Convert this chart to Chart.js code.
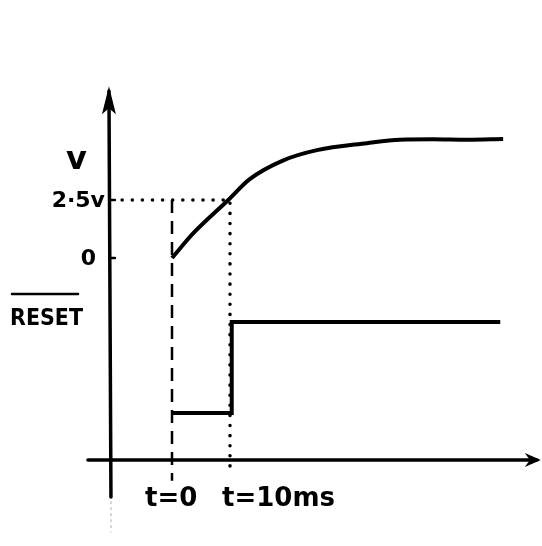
<!DOCTYPE html>
<html>
<head>
<meta charset="utf-8">
<script src="https://cdn.jsdelivr.net/npm/chart.js@4.4.0/dist/chart.umd.min.js"></script>
<style>
  body { margin: 0; background: #fff; }
  #wrap { width: 542px; height: 546px; }
</style>
</head>
<body>
<div id="wrap"><canvas id="grafico"></canvas></div>
<script>
const tempos = [0, 3.6, 9.7, 13.4, 19.1, 25, 33.6, 39.3, 45, 50.9, 57.1];
const tensao = [0, 1.05, 2.5, 3.4, 4.2, 4.65, 4.95, 5.1, 5.12, 5.1, 5.13];

// sinal RESET (0 = baixo, 1 = alto)
const temposReset = [0, 10.3, 10.3, 56.6];
const nivelReset = [0, 0, 1, 1];

const ticksTempo = [0, 10];
const labelsTempo = ['t=0', 't=10ms'];
const ticksTensao = [2.5, 0];
const labelsTensao = ['2·5v', '0'];
const nomeTensao = 'v';
const nomeReset = 'RESET';

// posicao dos eixos desenhados
const eixoT = -10.7;   // eixo vertical (em ms)
const eixoV = -8.7;    // eixo horizontal (em V)

const FAMILIA = '"DejaVu Sans", sans-serif';

const desenhoEixos = {
  id: 'desenhoEixos',
  afterDatasetsDraw(chart) {
    const ctx = chart.ctx;
    const sx = chart.scales.x;
    const sv = chart.scales.y;
    const sr = chart.scales.y2;
    const ax = sx.getPixelForValue(eixoT);
    const ay = sv.getPixelForValue(eixoV);

    ctx.save();
    ctx.strokeStyle = '#000';
    ctx.fillStyle = '#000';
    ctx.lineCap = 'round';

    // eixo vertical
    ctx.lineWidth = 3.5;
    ctx.beginPath();
    ctx.moveTo(ax + 1, sv.getPixelForValue(-10.3));
    ctx.lineTo(ax - 1, sv.getPixelForValue(7.2));
    ctx.stroke();
    // seta
    let topo = sv.getPixelForValue(7.4);
    ctx.beginPath();
    ctx.moveTo(ax - 1, topo);
    ctx.lineTo(ax - 8, topo + 28);
    ctx.lineTo(ax - 1, topo + 22);
    ctx.lineTo(ax + 6, topo + 28);
    ctx.closePath();
    ctx.fill();

    // prolongamento fraco
    ctx.strokeStyle = '#aaa';
    ctx.lineWidth = 1;
    ctx.setLineDash([2, 4]);
    ctx.beginPath();
    ctx.moveTo(ax + 1, sv.getPixelForValue(-10.5));
    ctx.lineTo(ax + 1, sv.getPixelForValue(-11.8));
    ctx.stroke();
    ctx.setLineDash([]);

    // eixo horizontal
    ctx.strokeStyle = '#000';
    ctx.lineWidth = 3.5;
    const esq = sx.getPixelForValue(-14.5);
    const dir = sx.getPixelForValue(63.6);
    ctx.beginPath();
    ctx.moveTo(esq, ay);
    ctx.lineTo(dir - 4, ay);
    ctx.stroke();
    ctx.beginPath();
    ctx.moveTo(dir, ay);
    ctx.lineTo(dir - 16, ay - 7);
    ctx.lineTo(dir - 11, ay);
    ctx.lineTo(dir - 16, ay + 7);
    ctx.closePath();
    ctx.fill();

    // marcas no eixo vertical
    ctx.lineWidth = 2.5;
    ticksTensao.forEach(v => {
      const y = sv.getPixelForValue(v);
      ctx.beginPath();
      ctx.moveTo(ax, y);
      ctx.lineTo(ax + 5, y);
      ctx.stroke();
    });

    // textos
    ctx.font = 'bold 22px ' + FAMILIA;
    ctx.textAlign = 'right';
    ctx.textBaseline = 'middle';
    ticksTensao.forEach((v, i) => {
      ctx.fillText(labelsTensao[i], ax - 5 - (v === 0 ? 9 : 0), sv.getPixelForValue(v) + 1);
    });
    ctx.font = 'bold 32px ' + FAMILIA;
    ctx.fillText(nomeTensao, ax - 23, sv.getPixelForValue(4.2));

    ctx.font = 'bold 20px ' + FAMILIA;
    ctx.textAlign = 'left';
    const yr = sr.getPixelForValue(1) - 3;
    const larg = ctx.measureText(nomeReset).width;
    ctx.save();
    ctx.translate(10, yr);
    ctx.scale(73 / larg, 1.15);
    ctx.fillText(nomeReset, 0, 0);
    ctx.restore();
    ctx.lineWidth = 2.5;
    ctx.beginPath();
    ctx.moveTo(12, yr - 25);
    ctx.lineTo(78, yr - 25);
    ctx.stroke();

    ctx.font = 'bold 26px ' + FAMILIA;
    ctx.textAlign = 'left';
    ticksTempo.forEach((t, i) => {
      ctx.fillText(labelsTempo[i], sx.getPixelForValue(t) - 27 + (i ? 19 : 0), ay + 39);
    });
    ctx.restore();
  }
};

const ctx = document.getElementById('grafico').getContext('2d');
const grafico = new Chart(ctx, {
  type: 'line',
  data: {
    datasets: [
      {
        label: 'v',
        data: tempos.map((t, i) => ({ x: t, y: tensao[i] })),
        yAxisID: 'y',
        borderColor: '#000',
        borderWidth: 4,
        pointRadius: 0,
        cubicInterpolationMode: 'monotone'
      },
      {
        label: 'RESET',
        data: temposReset.map((t, i) => ({ x: t, y: nivelReset[i] })),
        yAxisID: 'y2',
        borderColor: '#000',
        borderWidth: 4,
        pointRadius: 0,
        tension: 0
      },
      {
        label: 't0',
        data: [{ x: 0, y: 2.5 }, { x: 0, y: -9.6 }],
        yAxisID: 'y',
        borderColor: '#000',
        borderWidth: 2.5,
        borderDash: [13, 8],
        pointRadius: 0
      },
      {
        label: '2.5v',
        data: [{ x: -8.6, y: 2.5 }, { x: 10, y: 2.5 }, { x: 10, y: -9.3 }],
        yAxisID: 'y',
        borderColor: '#000',
        borderWidth: 3.5,
        borderDash: [0.1, 10],
        borderCapStyle: 'round',
        pointRadius: 0
      }
    ]
  },
  options: {
    responsive: true,
    maintainAspectRatio: false,
    animation: false,
    layout: { padding: 0 },
    plugins: { legend: { display: false }, tooltip: { enabled: false } },
    scales: {
      x: { type: 'linear', min: -29.66, max: 63.8, display: false },
      y: { type: 'linear', min: -12.41, max: 11.12, display: false },
      y2: { type: 'linear', axis: 'y', min: -1.4615, max: 4.538, display: false }
    }
  },
  plugins: [desenhoEixos]
});
</script>
</body>
</html>
